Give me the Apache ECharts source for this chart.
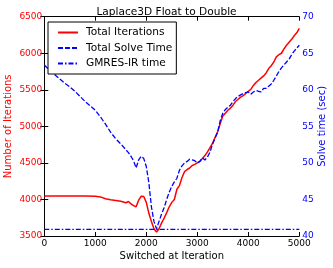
<!DOCTYPE html>
<html><head><meta charset="utf-8">
<script src="https://cdn.jsdelivr.net/npm/echarts@6/dist/echarts.min.js"></script>
<style>html,body{margin:0;padding:0;background:#fff}#c{width:333px;height:268px}</style>
</head><body><div id="c"></div>
<script>
const iterX = [0,200,400,600,800,1000,1100,1200,1300,1400,1500,1600,1650,1700,1750,1800,1850,1900,1950,2000,2050,2100,2150,2200,2250,2300,2350,2400,2450,2500,2550,2600,2650,2700,2750,2800,2850,2900,2950,3000,3050,3100,3150,3200,3250,3300,3350,3400,3450,3500,3550,3600,3650,3700,3750,3800,3850,3900,3950,4000,4050,4100,4150,4200,4250,4300,4350,4400,4450,4500,4550,4600,4650,4700,4750,4800,4850,4900,4950,5000];
const totalIterations = [4048,4048,4048,4048,4048,4045,4035,4010,3995,3985,3975,3955,3972,3940,3915,3900,3990,4045,4040,3960,3810,3700,3600,3555,3600,3680,3745,3820,3900,3960,4000,4140,4190,4300,4380,4410,4430,4465,4480,4500,4520,4560,4600,4650,4710,4770,4850,4930,5040,5140,5180,5220,5250,5290,5340,5370,5400,5420,5450,5480,5505,5560,5600,5630,5660,5690,5730,5790,5830,5880,5950,5980,6000,6060,6110,6150,6190,6240,6280,6340];
const timeX = [0,100,200,300,400,500,600,700,800,900,1000,1100,1200,1300,1400,1500,1600,1650,1700,1750,1800,1850,1900,1950,2000,2050,2100,2150,2200,2250,2300,2350,2400,2450,2500,2550,2600,2650,2700,2750,2800,2850,2900,2950,3000,3050,3100,3150,3200,3250,3300,3350,3400,3450,3500,3550,3600,3650,3700,3750,3800,3850,3900,3950,4000,4050,4100,4150,4200,4250,4300,4350,4400,4450,4500,4550,4600,4650,4700,4750,4800,4850,4900,4950,5000];
const totalSolveTime = [63.4,62.7,62.1,61.5,60.9,60.4,59.8,59.1,58.4,57.8,57.2,56.3,55.3,54.2,53.3,52.6,51.8,51.4,50.9,50.3,49.3,50.4,50.9,50.6,49.5,47.3,44.0,42.0,41.0,42.0,43.0,43.9,45.0,46.0,46.8,47.4,47.9,49.0,49.6,50.0,50.2,50.5,50.4,50.3,50.0,50.2,50.7,50.4,50.8,51.5,52.6,53.4,54.2,55.8,56.8,57.3,57.6,57.9,58.4,58.8,59.1,59.3,59.5,59.6,59.7,59.4,59.7,59.9,59.8,59.7,60.2,60.2,60.5,60.8,61.3,61.9,62.5,63.0,63.4,63.8,64.2,64.8,65.3,65.7,66.1];
const gmresX = [0,5000];
const gmresTime = [40.9,40.9];
const xTicks = [0,1000,2000,3000,4000,5000];
const leftTicks = [3500,4000,4500,5000,5500,6000,6500];
const rightTicks = [40,45,50,55,60,65,70];

const pair = (xs, ys) => xs.map((x,i)=>[x, ys[i]]);
const F = 'DejaVu Sans';
const chart = echarts.init(document.getElementById('c'), null, {renderer:'canvas'});
const axLine = {show:true, lineStyle:{color:'#000', width:1}};
const tick = {show:true, inside:true, length:4, lineStyle:{color:'#000'}};
const plain = v => String(v);
chart.setOption({
  animation:false,
  backgroundColor:'#fff',
  title:{text:'Laplace3D Float to Double', left:'center', top:1.5, textStyle:{fontFamily:F, fontSize:10.6, fontWeight:'normal', color:'#000'}},
  grid:{left:44.3, right:33.7, top:16.7, bottom:32, containLabel:false, outerBoundsMode:'none'},
  legend:{
    orient:'vertical', left:48, top:22, padding:[5,4,5,9], itemGap:4.5, itemWidth:20, itemHeight:10,
    borderColor:'#000', borderWidth:1, backgroundColor:'#fff',
    itemStyle:{opacity:0},
    textStyle:{fontFamily:F, fontSize:10.6, color:'#000', padding:[0,0,0,3]},
    data:['Total Iterations','Total Solve Time','GMRES-IR time']
  },
  xAxis:[
    {type:'value', min:xTicks[0], max:xTicks[xTicks.length-1], interval:1000, position:'bottom',
     name:'Switched at Iteration', nameLocation:'middle', nameGap:15, nameMoveOverlap:false,
     nameTextStyle:{fontFamily:F, fontSize:10, color:'#000'},
     axisLine:axLine, axisTick:tick, splitLine:{show:false},
     axisLabel:{fontFamily:F, fontSize:9, color:'#000', margin:3, formatter:plain}},
    {type:'value', min:xTicks[0], max:xTicks[xTicks.length-1], interval:1000, position:'top',
     axisLine:axLine, axisTick:tick, splitLine:{show:false}, axisLabel:{show:false}}
  ],
  yAxis:[
    {type:'value', min:leftTicks[0], max:leftTicks[leftTicks.length-1], interval:500, position:'left',
     name:'Number of Iterations', nameLocation:'middle', nameGap:31, nameRotate:90, nameMoveOverlap:false,
     nameTextStyle:{fontFamily:F, fontSize:10, color:'#ff0000'},
     axisLine:axLine, axisTick:tick, splitLine:{show:false},
     axisLabel:{fontFamily:F, fontSize:9, color:'#ff0000', margin:2, formatter:plain}},
    {type:'value', min:rightTicks[0], max:rightTicks[rightTicks.length-1], interval:5, position:'right',
     name:'Solve time (sec)', nameLocation:'middle', nameGap:18, nameRotate:90, nameMoveOverlap:false,
     nameTextStyle:{fontFamily:F, fontSize:10, color:'#0000ff'},
     axisLine:axLine, axisTick:tick, splitLine:{show:false},
     axisLabel:{fontFamily:F, fontSize:9, color:'#0000ff', margin:3, formatter:plain}}
  ],
  series:[
    {name:'Total Iterations', type:'line', xAxisIndex:0, yAxisIndex:0, data:pair(iterX,totalIterations),
     showSymbol:false, symbol:'none', color:'#ff0000', lineStyle:{color:'#ff0000', width:1.5}},
    {name:'Total Solve Time', type:'line', xAxisIndex:0, yAxisIndex:1, data:pair(timeX,totalSolveTime),
     showSymbol:false, symbol:'none', color:'#0000ff', lineStyle:{color:'#0000ff', width:1.3, type:[5,2]}},
    {name:'GMRES-IR time', type:'line', xAxisIndex:0, yAxisIndex:1, data:pair(gmresX,gmresTime),
     showSymbol:false, symbol:'none', color:'#0000ff', lineStyle:{color:'#0000ff', width:1.3, type:[5,2,1.5,2]}}
  ]
});
</script></body></html>
